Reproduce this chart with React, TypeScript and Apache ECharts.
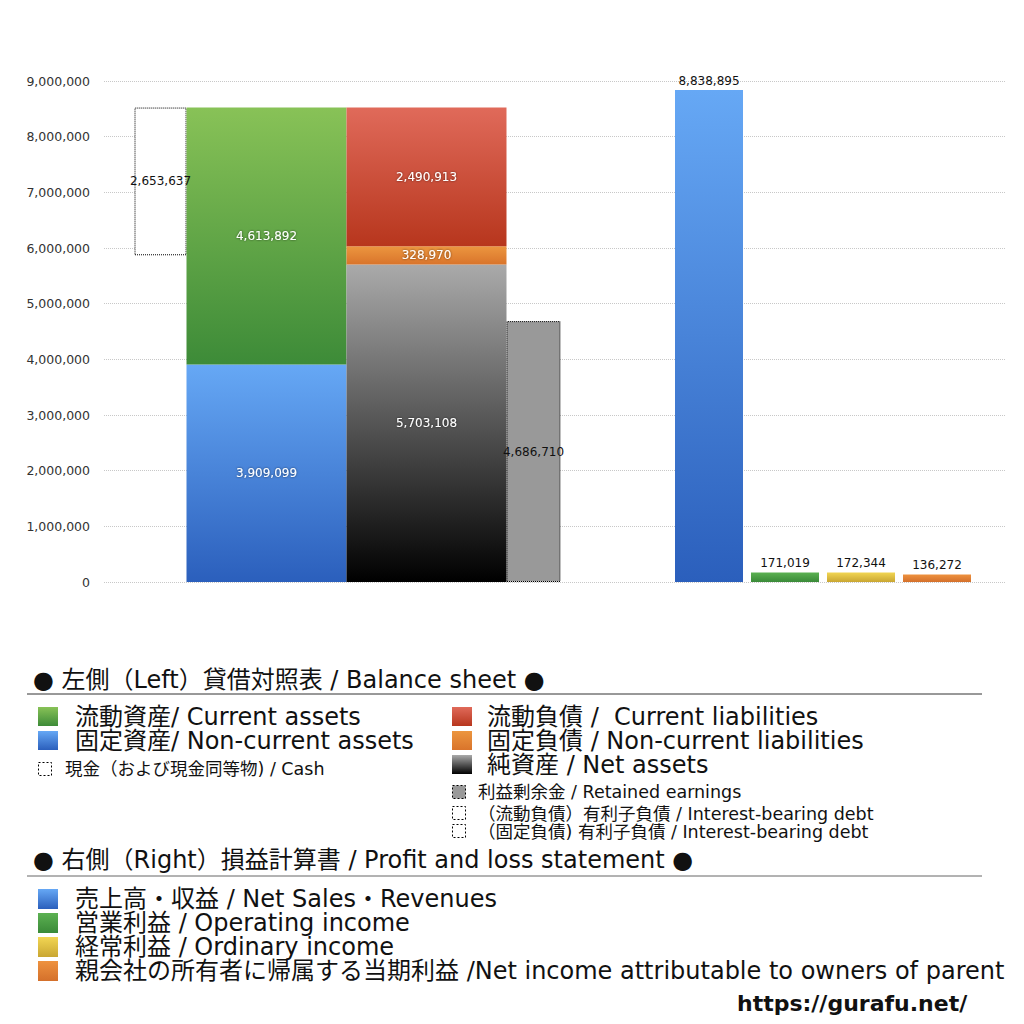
import React, { useEffect, useRef } from 'react';
import * as echarts from 'echarts';

// 貸借対照表 (left)
const cashValue = [2653637];
const assetNames = ['固定資産', '流動資産'];
const assetValues = [3909099, 4613892];
const liabNames = ['純資産', '固定負債', '流動負債'];
const liabValues = [5703108, 328970, 2490913];
const retainedValue = [4686710];

// 損益計算書 (right)
const plNames = ['売上高・収益', '営業利益', '経常利益', '親会社の所有者に帰属する当期利益'];
const plValues = [8838895, 171019, 172344, 136272];

const yMax = 9000000;
const yStep = 1000000;

const FONT = '"DejaVu Sans", "Noto Sans CJK JP", sans-serif';

const grad = (top: string, bottom: string) =>
  new echarts.graphic.LinearGradient(0, 0, 0, 1, [
    { offset: 0, color: top },
    { offset: 1, color: bottom },
  ]);

const C = {
  green: ['#88c257', '#3d8b38'],
  blue: ['#66a8f5', '#2b5fbc'],
  red: ['#e06a5a', '#b7361d'],
  orange: ['#ec963f', '#d9742b'],
  net: ['#aaaaaa', '#000000'],
  yellow: ['#f2d653', '#c9a632'],
  plGreen: ['#5cb152', '#3a8a38'],
  plOrange: ['#ee923f', '#d4702b'],
};

const fmt = (v: number) => v.toLocaleString('en-US');

const insideLabel = {
  show: true,
  position: 'inside',
  color: '#fff',
  fontSize: 12,
  fontFamily: FONT,
  textShadowColor: 'rgba(0,0,0,0.6)',
  textShadowBlur: 2,
  formatter: (p: any) => fmt(p.value),
};

const BIG = 24;
const SMALL = 17.5;

const legendText = (x: number, y: number, text: string, size: number, extra: any = {}) => ({
  type: 'text',
  x,
  y,
  style: {
    text,
    fill: '#111',
    fontSize: size,
    fontFamily: FONT,
    verticalAlign: 'middle',
    ...extra,
  },
});

const swatch = (x: number, y: number, w: number, h: number, fill: any, dotted = false) => ({
  type: 'rect',
  shape: { x, y, width: w, height: h },
  style: dotted
    ? { fill, stroke: '#000', lineWidth: 1, lineDash: [2, 2] }
    : { fill },
});

const App: React.FC = () => {
  const chartRef = useRef<HTMLDivElement>(null);

  useEffect(() => {
    const chart = echarts.init(chartRef.current!, null, { renderer: 'svg' });

    const totalAssets = assetValues.reduce((a, b) => a + b, 0);
    const cashBase = totalAssets - cashValue[0];
    const bsW = { cash: 52, assets: 160, liab: 160, retained: 54 };

    const gridTop = 81;
    const gridBottom = 442;

    const yHidden = (gridIndex: number) => ({
      type: 'value',
      gridIndex,
      min: 0,
      max: yMax,
      interval: yStep,
      show: false,
      splitLine: { show: false },
    });

    const plColors = [C.blue, C.plGreen, C.yellow, C.plOrange];

    const option: any = {
      animation: false,
      backgroundColor: '#fff',
      grid: [
        { left: 104, right: 19, top: gridTop, bottom: gridBottom },
        { left: 134, width: 427, top: gridTop, bottom: gridBottom },
        { left: 671, width: 304, top: gridTop, bottom: gridBottom },
      ],
      xAxis: [
        { type: 'category', gridIndex: 0, data: [''], show: false },
        { type: 'category', gridIndex: 1, data: ['BS'], show: false },
        { type: 'category', gridIndex: 2, data: plNames, show: false },
      ],
      yAxis: [
        {
          type: 'value',
          gridIndex: 0,
          min: 0,
          max: yMax,
          interval: yStep,
          axisLine: { show: false },
          axisTick: { show: false },
          axisLabel: {
            margin: 14,
            color: '#333',
            fontSize: 12.5,
            fontFamily: FONT,
            formatter: (v: number) => fmt(v),
          },
          splitLine: { lineStyle: { color: '#c8c8c8', type: 'dotted', width: 1 } },
        },
        yHidden(1),
        yHidden(2),
      ],
      series: [
        // cash (floating at top of assets)
        {
          type: 'bar', xAxisIndex: 1, yAxisIndex: 1, stack: 'cash', barWidth: bsW.cash, barGap: '0%',
          data: [cashBase], itemStyle: { color: 'transparent' }, silent: true, label: { show: false },
        },
        {
          type: 'bar', xAxisIndex: 1, yAxisIndex: 1, stack: 'cash', barWidth: bsW.cash, barGap: '0%',
          name: '現金', data: cashValue,
          itemStyle: { color: '#fff', borderColor: '#000', borderWidth: 1, borderType: 'dotted' },
          label: { ...insideLabel, color: '#111', textShadowBlur: 0 },
        },
        // assets
        {
          type: 'bar', xAxisIndex: 1, yAxisIndex: 1, stack: 'assets', barWidth: bsW.assets, barGap: '0%',
          name: assetNames[0], data: [assetValues[0]],
          itemStyle: { color: grad(C.blue[0], C.blue[1]) }, label: insideLabel,
        },
        {
          type: 'bar', xAxisIndex: 1, yAxisIndex: 1, stack: 'assets', barWidth: bsW.assets, barGap: '0%',
          name: assetNames[1], data: [assetValues[1]],
          itemStyle: { color: grad(C.green[0], C.green[1]) }, label: insideLabel,
        },
        // liabilities + net assets
        {
          type: 'bar', xAxisIndex: 1, yAxisIndex: 1, stack: 'liab', barWidth: bsW.liab, barGap: '0%',
          name: liabNames[0], data: [liabValues[0]],
          itemStyle: { color: grad(C.net[0], C.net[1]) }, label: insideLabel,
        },
        {
          type: 'bar', xAxisIndex: 1, yAxisIndex: 1, stack: 'liab', barWidth: bsW.liab, barGap: '0%',
          name: liabNames[1], data: [liabValues[1]],
          itemStyle: { color: grad(C.orange[0], C.orange[1]) }, label: insideLabel,
        },
        {
          type: 'bar', xAxisIndex: 1, yAxisIndex: 1, stack: 'liab', barWidth: bsW.liab, barGap: '0%',
          name: liabNames[2], data: [liabValues[2]],
          itemStyle: { color: grad(C.red[0], C.red[1]) }, label: insideLabel,
        },
        // retained earnings
        {
          type: 'bar', xAxisIndex: 1, yAxisIndex: 1, barWidth: bsW.retained, barGap: '0%',
          name: '利益剰余金', data: retainedValue,
          itemStyle: { color: '#999', borderColor: '#000', borderWidth: 1, borderType: 'dotted' },
          label: { ...insideLabel, color: '#111', textShadowBlur: 0 },
        },
        // profit and loss
        {
          type: 'bar', xAxisIndex: 2, yAxisIndex: 2, barWidth: 68,
          data: plValues.map((v, i) => ({
            value: v,
            itemStyle: { color: grad(plColors[i][0], plColors[i][1]) },
          })),
          label: {
            show: true,
            position: 'top',
            distance: 3,
            color: '#111',
            fontSize: 12,
            fontFamily: FONT,
            formatter: (p: any) => fmt(p.value),
          },
        },
      ],
      graphic: [
        // left header
        legendText(33, 680, '● 左側（Left）貸借対照表 / Balance sheet ●', BIG),
        { type: 'line', shape: { x1: 27, y1: 694, x2: 982, y2: 694 }, style: { stroke: '#333', lineWidth: 1 } },
        swatch(38, 707, 20, 19, grad(C.green[0], C.green[1])),
        legendText(75, 717, '流動資産/ Current assets', BIG),
        swatch(38, 731, 20, 19, grad(C.blue[0], C.blue[1])),
        legendText(75, 741, '固定資産/ Non-current assets', BIG),
        swatch(38.5, 762.5, 13, 13, '#fff', true),
        legendText(65, 769, '現金（および現金同等物) / Cash', SMALL),

        swatch(452, 707, 20, 19, grad(C.red[0], C.red[1])),
        legendText(487, 717, '流動負債 /  Current liabilities', BIG),
        swatch(452, 731, 20, 19, grad(C.orange[0], C.orange[1])),
        legendText(487, 741, '固定負債 / Non-current liabilities', BIG),
        swatch(452, 755, 20, 19, grad(C.net[0], C.net[1])),
        legendText(487, 765, '純資産 / Net assets', BIG),
        swatch(452.5, 785.5, 13, 13, '#999', true),
        legendText(478, 792, '利益剰余金 / Retained earnings', SMALL),
        swatch(452.5, 806.5, 13, 13, '#fff', true),
        legendText(478, 814, '（流動負債）有利子負債 / Interest-bearing debt', SMALL),
        swatch(452.5, 824.5, 13, 13, '#fff', true),
        legendText(478, 832, '（固定負債) 有利子負債 / Interest-bearing debt', SMALL),

        // right header
        legendText(33, 860, '● 右側（Right）損益計算書 / Profit and loss statement ●', BIG),
        { type: 'line', shape: { x1: 27, y1: 876, x2: 982, y2: 876 }, style: { stroke: '#666', lineWidth: 1 } },
        swatch(38, 889, 20, 20, grad(C.blue[0], C.blue[1])),
        legendText(75, 899, '売上高・収益 / Net Sales・Revenues', BIG),
        swatch(38, 913, 20, 20, grad(C.plGreen[0], C.plGreen[1])),
        legendText(75, 923, '営業利益 / Operating income', BIG),
        swatch(38, 937, 20, 20, grad(C.yellow[0], C.yellow[1])),
        legendText(75, 947, '経常利益 / Ordinary income', BIG),
        swatch(38, 961, 20, 20, grad(C.plOrange[0], C.plOrange[1])),
        legendText(75, 971, '親会社の所有者に帰属する当期利益 /Net income attributable to owners of parent', BIG),

        legendText(737, 1003, 'https://gurafu.net/', 22, { fontWeight: 'bold', fontFamily: '"DejaVu Sans", sans-serif' }),
      ],
    };

    chart.setOption(option);

    return () => {
      chart.dispose();
    };
  }, []);

  return (
    <div
      ref={chartRef}
      style={{ position: 'fixed', left: 0, top: 0, width: '1024px', height: '1024px' }}
    />
  );
};

export default App;
